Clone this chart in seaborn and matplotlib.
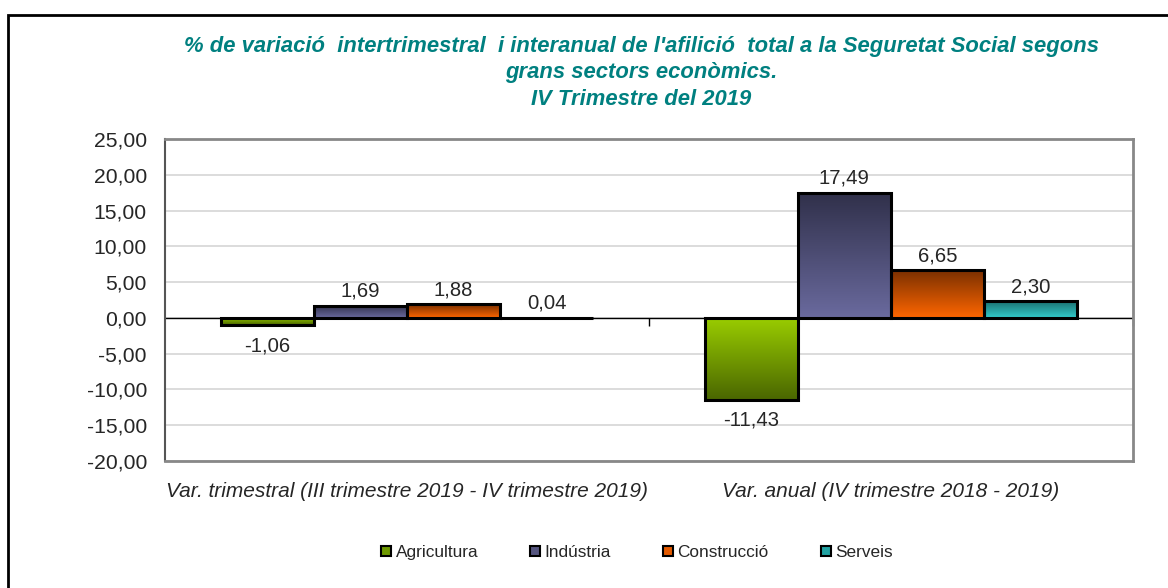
import numpy as np
import pandas as pd
import seaborn as sns
import matplotlib.pyplot as plt
from matplotlib.colors import to_rgb
from matplotlib.lines import Line2D
from matplotlib.patches import Rectangle

# data
periods = ['Var. trimestral (III trimestre 2019 - IV trimestre 2019)',
           'Var. anual (IV trimestre 2018 - 2019)']
sectors = ['Agricultura', 'Indústria', 'Construcció', 'Serveis']
agricultura = [-1.06, -11.43]
industria = [1.69, 17.49]
construccio = [1.88, 6.65]
serveis = [0.04, 2.30]

# light colour near zero, dark at the far end of the bar
light = ['#99cc00', '#6a6a9e', '#ff6600', '#33cccc']
dark = ['#4a6600', '#30304a', '#7a3000', '#1a7070']
legend_cols = ['#6e9900', '#55557f', '#e35a00', '#22a3a3']

df = pd.DataFrame({
    'period': periods * 4,
    'sector': np.repeat(sectors, 2),
    'value': agricultura + industria + construccio + serveis,
})

sns.set_style("white")
plt.rcParams['font.family'] = ['Liberation Sans', 'DejaVu Sans']

fig = plt.figure(figsize=(11.68, 5.88), dpi=100)
ax = fig.add_axes([0.1413, 0.216, 0.8287, 0.5476])

sns.barplot(data=df, x='period', y='value', hue='sector', hue_order=sectors,
            order=periods, width=0.77, saturation=1, legend=False,
            edgecolor='black', linewidth=2.2, ax=ax, zorder=3)

# gradient fill inside every bar
for i, cont in enumerate(ax.containers):
    c_light = np.array(to_rgb(light[i]))
    c_dark = np.array(to_rgb(dark[i]))
    for bar in cont:
        x0, y0 = bar.get_x(), bar.get_y()
        w, h = bar.get_width(), bar.get_height()
        t = np.linspace(0, 1, 100)[:, None]
        img = (c_light + (c_dark - c_light) * t)[:, None, :]  # row 0 at zero
        if h >= 0:
            img = img[::-1]
            extent = (x0, x0 + w, y0, y0 + h)
        else:
            extent = (x0, x0 + w, y0 + h, y0)
        bar.set_facecolor('none')
        im = ax.imshow(img, extent=extent, aspect='auto', zorder=2.5,
                       interpolation='bilinear')
        im.set_clip_path(bar)
        # value label
        lab = f"{y0 + h:.2f}".replace('.', ',')
        ax.annotate(lab, (x0 + w / 2, y0 + h), xytext=(0, 3.5 if h >= 0 else -8),
                    textcoords='offset points', ha='center',
                    va='bottom' if h >= 0 else 'top', fontsize=14.6, zorder=5)

ax.set_xlim(-0.5, 1.5)
ax.set_ylim(-20, 25)
ax.set_yticks(np.arange(-20, 26, 5))
ax.set_yticklabels([f"{v:.2f}".replace('.', ',') for v in np.arange(-20, 26, 5)],
                   fontsize=15.2)
ax.set_xlabel('')
ax.set_ylabel('')
ax.tick_params(axis='x', length=0, pad=15, labelsize=15)
for lab in ax.get_xticklabels():
    lab.set_style('italic')
ax.tick_params(axis='y', length=6, direction='out', width=1.2, color='#222222', pad=7)
ax.grid(axis='y', color='#d9d9d9', lw=1.3, zorder=0)
ax.set_axisbelow(True)

for side in ['top', 'right', 'bottom']:
    ax.spines[side].set_color('#888888')
    ax.spines[side].set_linewidth(2)
ax.spines['left'].set_color('#555555')
ax.spines['left'].set_linewidth(1.5)

# category axis crossing at zero
ax.axhline(0, color='black', lw=1, zorder=2)
zax = ax.secondary_xaxis(20 / 45)
zax.set_xticks([0.5, 1.5])
zax.set_xticklabels([])
zax.tick_params(axis='x', direction='out', length=6, color='black', width=1,
                bottom=True, top=False)
for side in zax.spines:
    zax.spines[side].set_visible(False)

fig.text(0.549, 0.876,
         "% de variació  intertrimestral  i interanual de l'afilició  total a la Seguretat Social segons\n"
         "grans sectors econòmics.\nIV Trimestre del 2019",
         ha='center', va='center', color='#008080', fontsize=15.8,
         fontweight='bold', style='italic', linespacing=1.32)

handles = [Line2D([], [], marker='s', linestyle='none', markersize=7.5,
                  markerfacecolor=c, markeredgecolor='black', markeredgewidth=1.5)
           for c in legend_cols]
fig.legend(handles, sectors, loc='center', bbox_to_anchor=(0.545, 0.06), ncol=4,
           frameon=False, fontsize=12.4, handlelength=0.7, handletextpad=0.2,
           columnspacing=2.95)

fig.patches.append(Rectangle((0.0068, -0.2), 1.2, 1.1745, transform=fig.transFigure,
                             fill=False, edgecolor='black', lw=2, zorder=10))

fig.savefig('out.png', dpi=100)
